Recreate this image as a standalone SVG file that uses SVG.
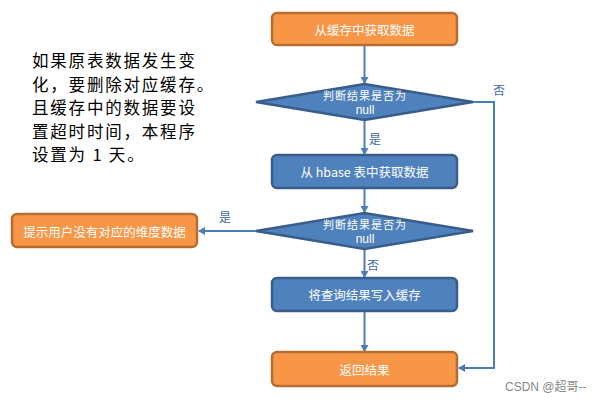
<svg xmlns="http://www.w3.org/2000/svg" width="606" height="403" viewBox="0 0 606 403">
<style>
.orange{fill:#F79646;stroke:#B66D31;stroke-width:2.5}
.blue{fill:#4F81BD;stroke:#385D8A;stroke-width:2.5}
.t{font-family:"Noto Sans CJK SC","Liberation Sans",sans-serif;font-size:12.5px;fill:#fff;text-anchor:middle;dominant-baseline:central}
.dt{font-family:"Noto Sans CJK SC","Liberation Sans",sans-serif;font-size:11px;letter-spacing:1px;fill:#fff;text-anchor:middle;dominant-baseline:central}
.dn{font-family:"Liberation Sans",sans-serif;font-size:12px;fill:#fff;text-anchor:middle;dominant-baseline:central}
.lbl{font-family:"Noto Sans CJK SC","Liberation Sans",sans-serif;font-size:12px;fill:#3F69A5;dominant-baseline:central}
.c{fill:none;stroke:#4A7EBB;stroke-width:2}
.note{font-family:"Noto Sans CJK SC","Liberation Sans",sans-serif;font-size:16.5px;letter-spacing:1.8px;fill:#000}
</style>
<defs>
<marker id="ah" markerWidth="8" markerHeight="8" refX="6" refY="4" orient="auto" markerUnits="userSpaceOnUse">
<path d="M0,0 L7,4 L0,8 z" fill="#4A7EBB"/>
</marker>
</defs>
<rect width="606" height="403" fill="#fff"/>
<g id="note">
<text class="note" x="32" y="67">如果原表数据发生变</text>
<text class="note" x="32" y="91">化，要删除对应缓存。</text>
<text class="note" x="32" y="114">且缓存中的数据要设</text>
<text class="note" x="32" y="138">置超时时间，本程序</text>
<text class="note" x="32" y="161">设置为 1 天。</text>
</g>
<g id="connectors">
<line class="c" x1="364.5" y1="45" x2="364.5" y2="83" marker-end="url(#ah)"/>
<line class="c" x1="364.5" y1="120" x2="364.5" y2="154" marker-end="url(#ah)"/>
<line class="c" x1="364.5" y1="188" x2="364.5" y2="212" marker-end="url(#ah)"/>
<line class="c" x1="364.5" y1="249" x2="364.5" y2="277" marker-end="url(#ah)"/>
<line class="c" x1="364.5" y1="311" x2="364.5" y2="351" marker-end="url(#ah)"/>
<polyline class="c" points="473,102 494,102 494,368 459,368" marker-end="url(#ah)"/>
<line class="c" x1="256" y1="231" x2="199" y2="231" marker-end="url(#ah)"/>
<text class="lbl" x="493" y="89">否</text>
<text class="lbl" x="369" y="138">是</text>
<text class="lbl" x="219" y="216">是</text>
<text class="lbl" x="367" y="264">否</text>
</g>
<g id="n1">
<rect class="orange" x="272" y="13" width="185" height="32" rx="5"/>
<text class="t" x="364.5" y="29">从缓存中获取数据</text>
</g>
<g id="d1">
<polygon class="blue" points="256,102 364.5,84 473,102 364.5,120"/>
<text class="dt" x="365" y="95">判断结果是否为</text>
<text class="dn" x="365" y="110">null</text>
</g>
<g id="n2">
<rect class="blue" x="272" y="155" width="185" height="33" rx="5"/>
<text class="t" x="364.5" y="171.5">从 hbase 表中获取数据</text>
</g>
<g id="d2">
<polygon class="blue" points="256,231 364.5,213 473,231 364.5,249"/>
<text class="dt" x="365" y="224">判断结果是否为</text>
<text class="dn" x="365" y="239">null</text>
</g>
<g id="n3">
<rect class="blue" x="272" y="278" width="185" height="33" rx="5"/>
<text class="t" x="364.5" y="294.5">将查询结果写入缓存</text>
</g>
<g id="n4">
<rect class="orange" x="272" y="352" width="185" height="34" rx="5"/>
<text class="t" x="364.5" y="369">返回结果</text>
</g>
<g id="n5">
<rect class="orange" x="12" y="214" width="185" height="33" rx="5"/>
<text class="t" x="104.5" y="231">提示用户没有对应的维度数据</text>
</g>
<text x="505" y="387" font-family="'Liberation Sans','Noto Sans CJK SC',sans-serif" font-size="12" fill="#888" dominant-baseline="central">CSDN @超哥--</text>
</svg>
